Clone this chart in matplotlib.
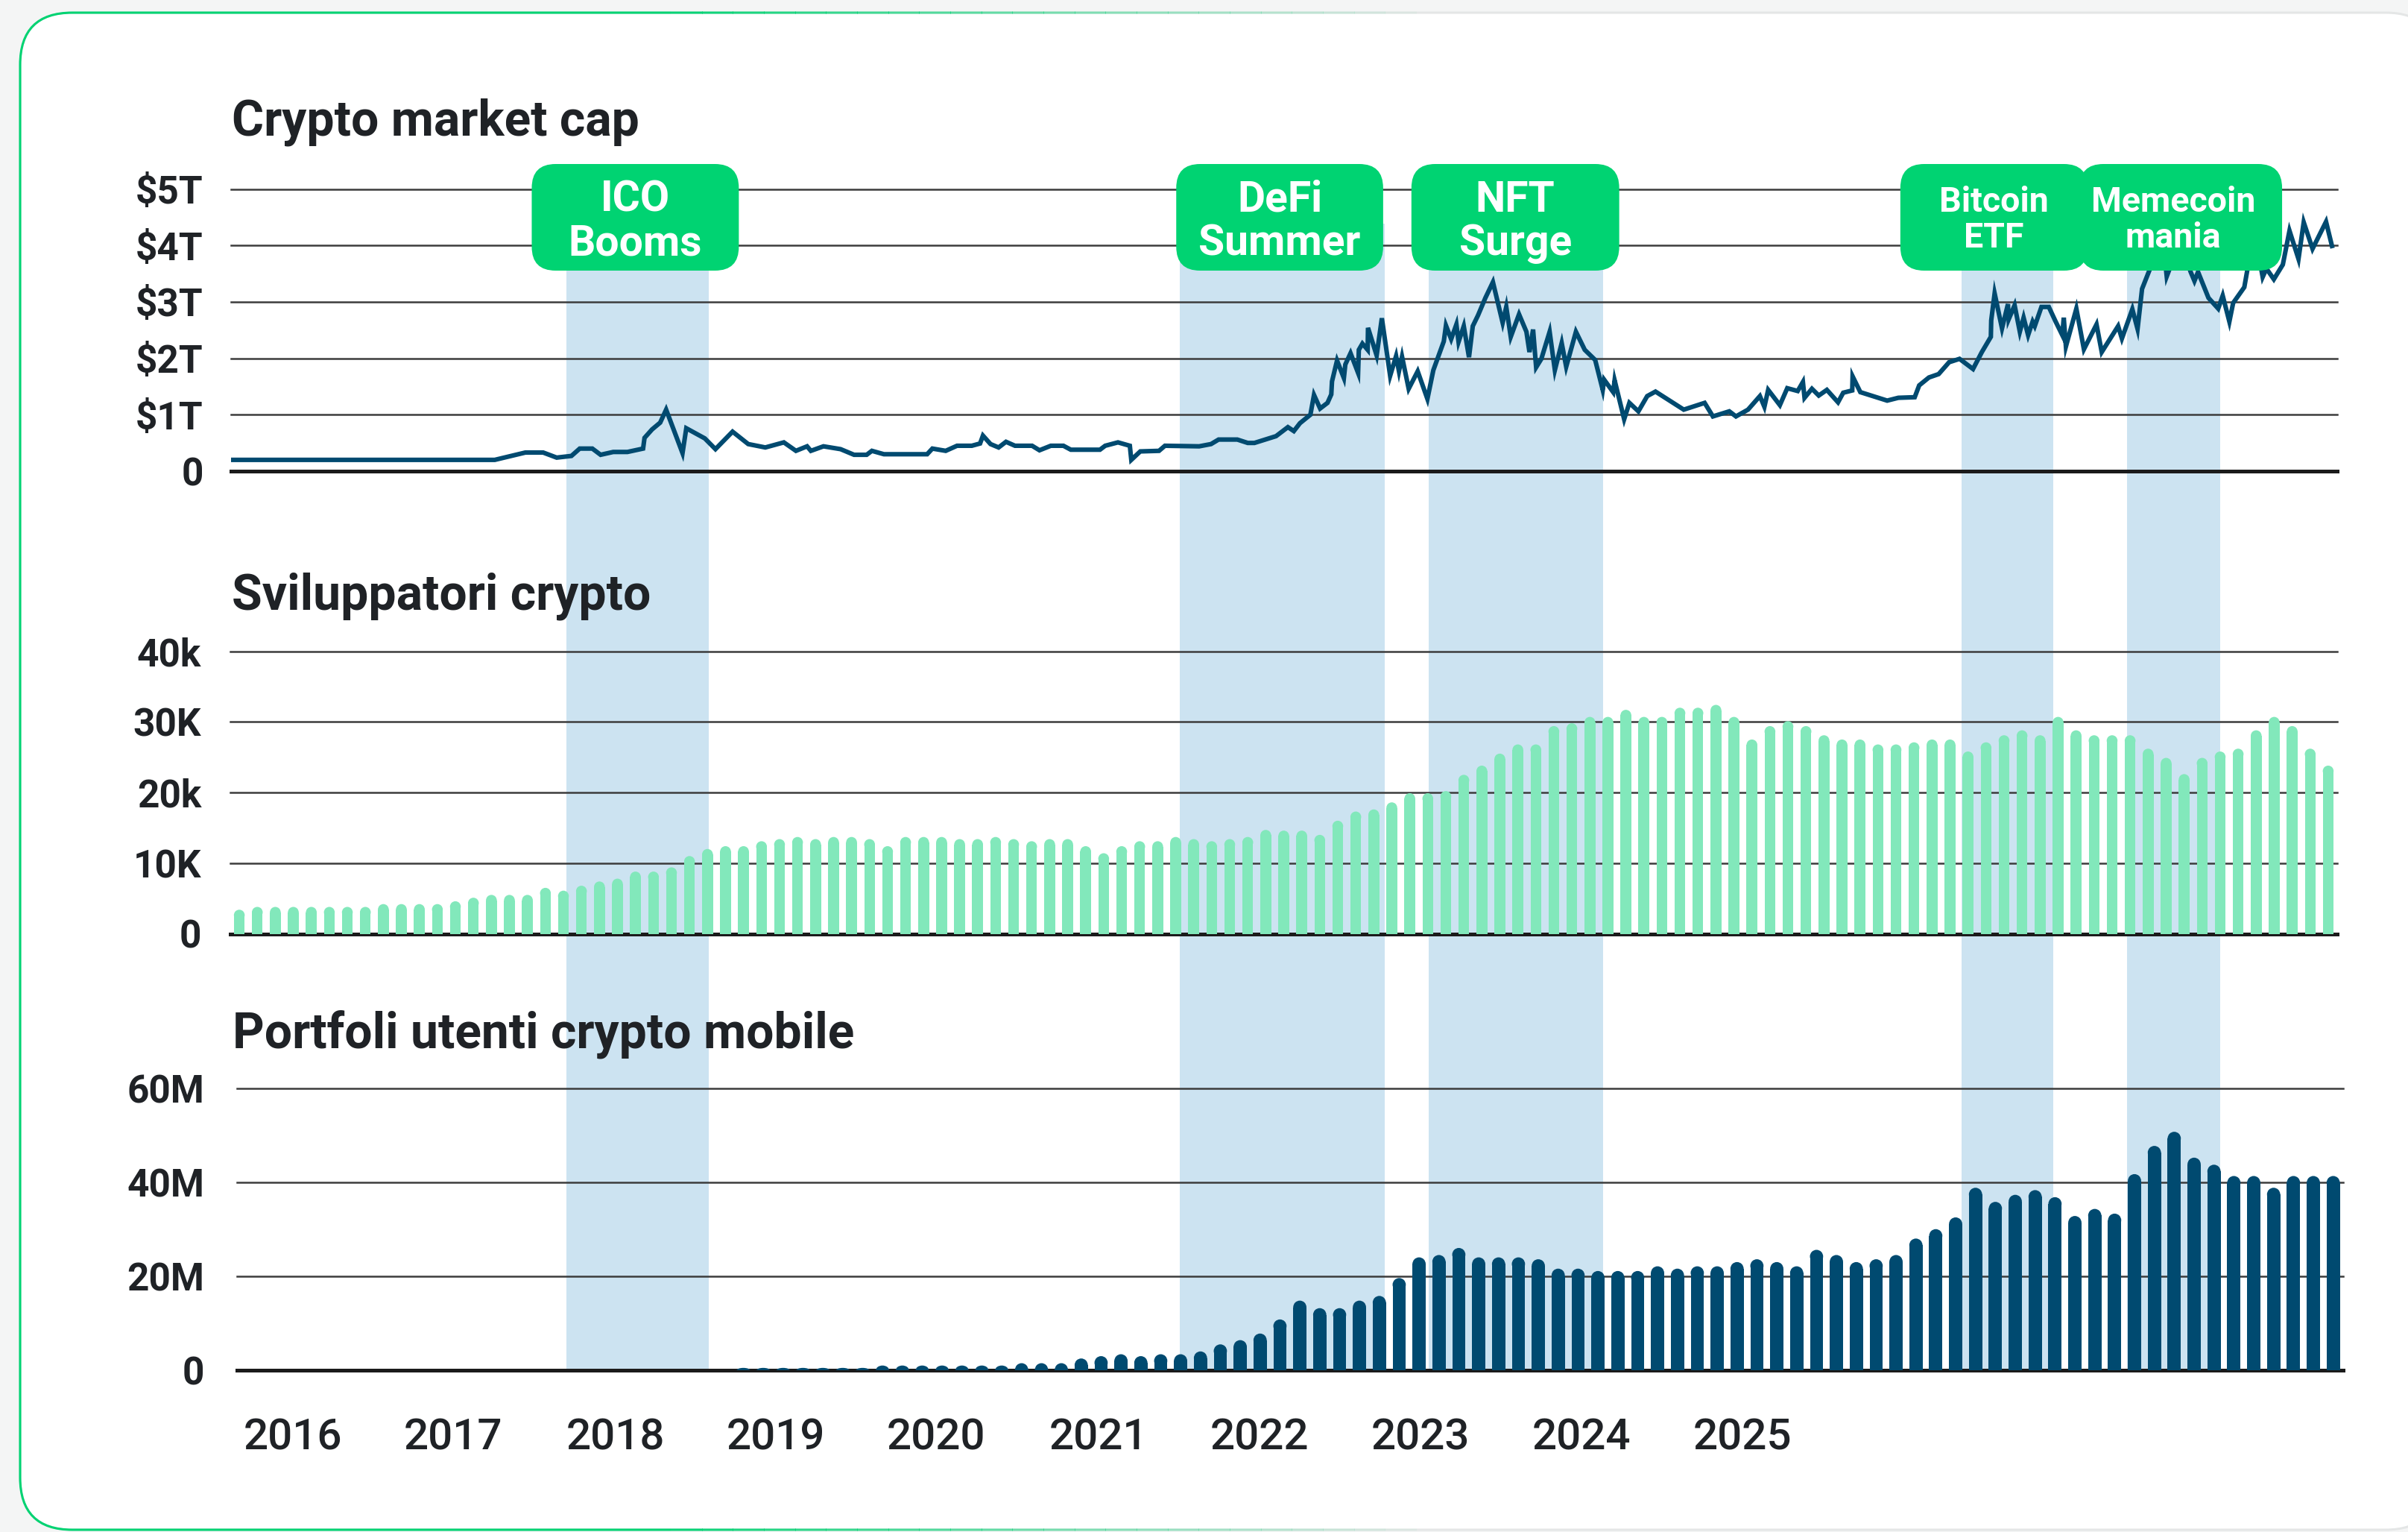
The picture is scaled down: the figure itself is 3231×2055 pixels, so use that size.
import numpy as np
import matplotlib.pyplot as plt
from matplotlib.patches import FancyBboxPatch, Rectangle, Ellipse

# --- data -----------------------------------------------------------------
# crypto market cap ($T); x = months since Jan 2016
mcap_x = [-0.5, 14.15, 15.85, 16.84, 17.59, 18.41, 18.87, 19.57, 20.03, 20.73,
          21.52, 22.39, 22.47, 22.89, 23.34, 23.67, 24.58, 24.79, 25.82, 26.41,
          27.36, 28.23, 29.18, 30.21, 30.88, 31.50, 31.71, 32.41, 33.36, 34.11,
          34.81, 35.10, 35.77, 38.17, 38.46, 39.20, 39.83, 40.65, 41.11, 41.27,
          41.69, 42.14, 42.55, 43.05, 44.00, 44.41, 45.04, 45.74, 46.15, 47.77,
          48.06, 48.77, 49.43, 49.51, 50.01, 51.05, 51.38, 53.28, 53.94, 54.36,
          55.40, 55.98, 56.35, 57.55, 58.21, 58.54, 58.88, 59.46, 59.66, 60.00,
          60.41, 60.62, 60.66, 60.94, 61.32, 61.40, 61.69, 62.11, 62.15, 62.35,
          62.64, 62.66, 63.14, 63.43, 63.89, 64.22, 64.38, 64.55, 64.92, 65.42,
          65.96, 66.29, 66.87, 66.99, 67.28, 67.57, 67.69, 67.98, 68.27, 68.48,
          68.77, 69.18, 69.60, 70.14, 70.34, 70.59, 71.05, 71.46, 71.63, 71.83,
          72.00, 72.29, 72.75, 73.04, 73.42, 73.67, 74.21, 74.70, 75.28, 75.70,
          75.78, 76.28, 76.36, 76.89, 77.18, 77.68, 78.17, 78.63, 80.20, 81.36,
          81.82, 82.73, 83.10, 83.77, 84.43, 84.68, 84.89, 85.54, 85.95, 86.53,
          86.82, 86.91, 87.32, 87.70, 88.15, 88.77, 89.06, 89.56, 89.58, 90.01,
          91.50, 92.12, 93.03, 93.28, 93.82, 94.36, 94.94, 95.52, 96.27, 96.76,
          97.26, 97.28, 97.47, 97.88, 98.21, 98.25, 98.58, 98.87, 99.08, 99.33,
          99.58, 99.70, 100.07, 100.48, 100.86, 101.23, 101.31, 101.43, 102.01, 102.43,
          103.13, 103.42, 104.33, 104.54, 105.12, 105.41, 105.66, 106.07, 106.49, 106.82,
          107.03, 107.36, 107.74, 108.07, 108.36, 108.57, 108.77, 109.35, 109.89, 110.14,
          110.51, 110.72, 111.34, 111.55, 111.84, 112.10, 112.36, 112.57, 112.98, 113.48,
          113.85, 114.35, 114.64, 115.13, 115.88, 116.21]
mcap_v = [0.20, 0.20, 0.33, 0.33, 0.24, 0.27, 0.40, 0.40, 0.29, 0.34,
          0.34, 0.40, 0.59, 0.74, 0.86, 1.09, 0.32, 0.76, 0.58, 0.39,
          0.70, 0.48, 0.42, 0.51, 0.36, 0.44, 0.36, 0.44, 0.39, 0.29,
          0.29, 0.36, 0.30, 0.30, 0.40, 0.36, 0.45, 0.45, 0.49, 0.63,
          0.48, 0.42, 0.52, 0.45, 0.45, 0.37, 0.45, 0.45, 0.38, 0.38,
          0.45, 0.51, 0.45, 0.20, 0.35, 0.36, 0.45, 0.44, 0.48, 0.56,
          0.56, 0.50, 0.50, 0.62, 0.78, 0.71, 0.85, 1.00, 1.35, 1.11,
          1.21, 1.36, 1.59, 1.96, 1.65, 1.89, 2.09, 1.74, 2.15, 2.26,
          2.15, 2.54, 2.05, 2.71, 1.69, 2.04, 1.77, 2.03, 1.46, 1.77,
          1.28, 1.79, 2.30, 2.58, 2.34, 2.60, 2.29, 2.57, 2.02, 2.57,
          2.76, 3.07, 3.35, 2.63, 2.91, 2.38, 2.78, 2.47, 2.11, 2.51,
          1.84, 1.99, 2.47, 1.79, 2.27, 1.85, 2.47, 2.15, 1.97, 1.44,
          1.62, 1.40, 1.61, 0.92, 1.21, 1.06, 1.33, 1.41, 1.09, 1.21,
          0.97, 1.06, 0.97, 1.09, 1.33, 1.14, 1.44, 1.17, 1.47, 1.42,
          1.58, 1.30, 1.46, 1.34, 1.44, 1.22, 1.39, 1.43, 1.68, 1.40,
          1.25, 1.30, 1.31, 1.52, 1.66, 1.72, 1.93, 1.99, 1.81, 2.11,
          2.38, 2.67, 3.15, 2.53, 2.96, 2.69, 2.94, 2.47, 2.72, 2.41,
          2.65, 2.57, 2.91, 2.91, 2.65, 2.41, 2.72, 2.21, 2.88, 2.16,
          2.60, 2.11, 2.57, 2.35, 2.87, 2.52, 3.23, 3.56, 3.90, 4.10,
          3.45, 3.73, 4.05, 3.80, 3.53, 3.37, 3.53, 3.07, 2.88, 3.11,
          2.65, 2.98, 3.26, 3.64, 3.73, 3.90, 3.44, 3.59, 3.40, 3.66,
          4.26, 3.76, 4.41, 3.94, 4.42, 3.99]

# crypto developers (thousands), monthly Jan 2016 ->
devs = [3.4, 3.8, 3.8, 3.8, 3.8, 3.8, 3.8, 3.8, 4.2, 4.2,
        4.2, 4.2, 4.6, 5.1, 5.5, 5.5, 5.5, 6.5, 6.1, 6.8,
        7.4, 7.8, 8.8, 8.8, 9.4, 11.0, 12.0, 12.4, 12.4, 13.1,
        13.4, 13.7, 13.4, 13.7, 13.7, 13.4, 12.4, 13.7, 13.7, 13.7,
        13.4, 13.4, 13.7, 13.4, 13.1, 13.4, 13.4, 12.4, 11.4, 12.4,
        13.1, 13.1, 13.7, 13.4, 13.1, 13.4, 13.7, 14.7, 14.6, 14.6,
        14.0, 16.0, 17.3, 17.6, 18.6, 19.9, 19.9, 20.2, 22.5, 23.8,
        25.5, 26.8, 26.8, 29.4, 29.8, 30.7, 30.7, 31.7, 30.7, 30.7,
        32.0, 32.0, 32.4, 30.7, 27.5, 29.4, 30.1, 29.4, 28.1, 27.5,
        27.5, 26.8, 26.8, 27.1, 27.5, 27.5, 25.8, 27.1, 28.1, 28.8,
        28.1, 30.7, 28.8, 28.1, 28.1, 28.1, 26.2, 24.9, 22.6, 24.9,
        25.8, 26.2, 28.8, 30.7, 29.4, 26.2, 23.8]

# mobile crypto wallets (millions); first data slot on the bottom axis
wallet_start = 25
wallets = [0.5, 0.5, 0.5, 0.5, 0.5, 0.5, 0.5, 1.0, 1.0, 1.0,
           1.0, 1.0, 1.0, 1.0, 1.5, 1.5, 1.5, 2.5, 3.0, 3.4,
           3.0, 3.4, 3.4, 4.0, 5.5, 6.4, 7.8, 10.8, 14.8, 13.2,
           13.2, 14.8, 15.8, 19.6, 24.0, 24.5, 26.0, 24.0, 24.0, 24.0,
           23.6, 21.6, 21.6, 21.1, 21.1, 21.1, 22.1, 21.6, 22.1, 22.1,
           23.0, 23.6, 23.0, 22.1, 25.6, 24.5, 23.0, 23.6, 24.5, 28.0,
           30.0, 32.5, 38.8, 35.8, 37.3, 38.3, 36.8, 32.8, 34.3, 33.3,
           41.7, 47.7, 50.7, 45.2, 43.7, 41.3, 41.3, 38.8, 41.3, 41.3,
           41.3]
wallet_slots = 106

# highlighted periods (months since Jan 2016)
band_start = [18.16, 52.24, 66.06, 95.65, 104.83]
band_end = [26.08, 63.62, 75.75, 100.74, 110.0]
labels = [("ICO", "Booms"), ("DeFi", "Summer"), ("NFT", "Surge"),
          ("Bitcoin", "ETF"), ("Memecoin", "mania")]
label_left = [16.24, 52.03, 65.09, 92.24, 102.19]
label_right = [27.74, 63.52, 76.63, 102.65, 113.44]

years = ["2016", "2017", "2018", "2019", "2020", "2021", "2022", "2023", "2024", "2025"]
year_pos = [2.33, 10.41, 18.57, 26.65, 34.70, 42.88, 50.96, 59.06, 67.18, 75.26]

# --- style ----------------------------------------------------------------
plt.rcParams["font.family"] = ["Roboto", "DejaVu Sans"]
INK = "#1f2226"
GREEN = "#00d372"
BAND = "#cce3f1"
NAVY = "#004a70"
MINT = "#82e8bb"
GRID = "#3c3c3c"

W, H = 3231, 2055
fig = plt.figure(figsize=(W / 100, H / 100), dpi=100)
fig.patch.set_facecolor("#f4f5f5")


def box(left, top, right, bottom):
    return [left / W, 1 - bottom / H, (right - left) / W, (bottom - top) / H]


bg = fig.add_axes([0, 0, 1, 1], zorder=-1)
fg = fig.add_axes([0, 0, 1, 1], zorder=10)
for a in (bg, fg):
    a.set_xlim(0, W)
    a.set_ylim(H, 0)
    a.axis("off")
    a.patch.set_alpha(0)

ax1 = fig.add_axes(box(310, 253.5, 3136, 632))
ax2 = fig.add_axes(box(309, 873.5, 3136, 1252.5))
ax3 = fig.add_axes(box(317.5, 1459.5, 3144, 1838))

# card
card = dict(boxstyle="round,pad=0,rounding_size=70", lw=2.2)
card_xy, card_w, card_h = (27, 17), W + 40 - 27, 2052 - 17
bg.add_patch(FancyBboxPatch(card_xy, card_w, card_h, fc="white", ec="#e4e6e6", **card))
steps = 24
for i in range(steps + 1):
    if i == 0:
        x0, x1, al = 0, 900, 1.0
    else:
        x0 = 900 + (i - 1) * 1000 / steps
        x1 = x0 + 1000 / steps + 1
        al = 1 - i / (steps + 1)
    p = FancyBboxPatch(card_xy, card_w, card_h, fc="none", ec=GREEN, alpha=al, **card)
    bg.add_patch(p)
    p.set_clip_path(Rectangle((x0, -10), x1 - x0, H + 20, transform=bg.transData))

# axes
fmt = dict(color=INK, fontsize=37, fontweight="bold")
specs = [
    (ax1, (0, 5), [0, 1, 2, 3, 4, 5], ["0", "$1T", "$2T", "$3T", "$4T", "$5T"], 27, (-0.5, 116.5)),
    (ax2, (0, 40), [0, 10, 20, 30, 40], ["0", "10K", "20k", "30K", "40k"], 28, (-0.5, 116.5)),
    (ax3, (0, 60), [0, 20, 40, 60], ["0", "20M", "40M", "60M"], 31, (-0.5, wallet_slots - 0.5)),
]
for ax, ylim, ticks, tlabels, pad, xlim in specs:
    ax.set_facecolor("none")
    ax.set_xlim(*xlim)
    ax.set_ylim(*ylim)
    for s in ax.spines.values():
        s.set_visible(False)
    ax.set_yticks(ticks)
    ax.set_yticklabels(tlabels, **fmt)
    ax.tick_params(axis="y", length=0, pad=pad)
    ax.set_xticks([])
    for t in ticks[1:]:
        ax.axhline(t, color=GRID, lw=1.8, zorder=2, clip_on=False)
    ax.axhline(0, color="#1b1b1b", lw=3.6, zorder=2.5, clip_on=False)

ax3.set_xticks(year_pos)
ax3.set_xticklabels(years, color=INK, fontsize=42, fontweight="medium")
ax3.tick_params(axis="x", length=0, pad=46)

# market cap line
ax1.plot(mcap_x, mcap_v, color=NAVY, lw=4.4, zorder=4, solid_joinstyle="miter")


def rounded_bars(ax, xs, vals, width, color):
    bb = ax.bbox
    x0, x1 = ax.get_xlim()
    y0, y1 = ax.get_ylim()
    r = width / 2 * (bb.width / (x1 - x0)) / (bb.height / (y1 - y0))
    for x, v in zip(xs, vals):
        if v <= 0:
            continue
        c = min(r, v)
        ax.bar(x, v - c, width=width, color=color, lw=0, zorder=3)
        ax.add_patch(Ellipse((x, v - c), width, 2 * c, color=color, lw=0, zorder=3))


rounded_bars(ax2, np.arange(len(devs)), devs, 0.6, MINT)
rounded_bars(ax3, wallet_start + np.arange(len(wallets)), wallets, 0.665, NAVY)

# titles
title_kw = dict(color=INK, fontsize=47.5, fontweight="bold", va="baseline", ha="left")
fg.text(311, 181, "Crypto market cap", **title_kw)
fg.text(311, 818, "Sviluppatori crypto", **title_kw)
fg.text(312, 1405, "Portfoli utenti crypto mobile", **title_kw)


# bands and labels
def to_px(ax, m):
    return ax.transData.transform((m, 0))[0]


for s, e in zip(band_start, band_end):
    x0, x1 = to_px(ax2, s), to_px(ax2, e)
    bg.add_patch(Rectangle((x0, 300), x1 - x0, 1838 - 300, fc=BAND, ec="none"))

for i, ((l1, l2), a, b) in enumerate(zip(labels, label_left, label_right)):
    x0, x1 = to_px(ax2, a), to_px(ax2, b)
    fg.add_patch(FancyBboxPatch((x0, 220), x1 - x0, 143, fc=GREEN, ec="none",
                                boxstyle="round,pad=0,rounding_size=32"))
    big = i < 3
    cx = (x0 + x1) / 2 if i != 4 else (x0 + x1) / 2 - 10
    fs = 41 if big else 33.5
    fg.text(cx, 283.5, l1, color="white", fontsize=fs, fontweight="bold", ha="center", va="baseline")
    fg.text(cx, 342.5 if big else 332, l2, color="white", fontsize=fs, fontweight="bold",
            ha="center", va="baseline")

fig.savefig("out.png", dpi=100, facecolor=fig.get_facecolor())
